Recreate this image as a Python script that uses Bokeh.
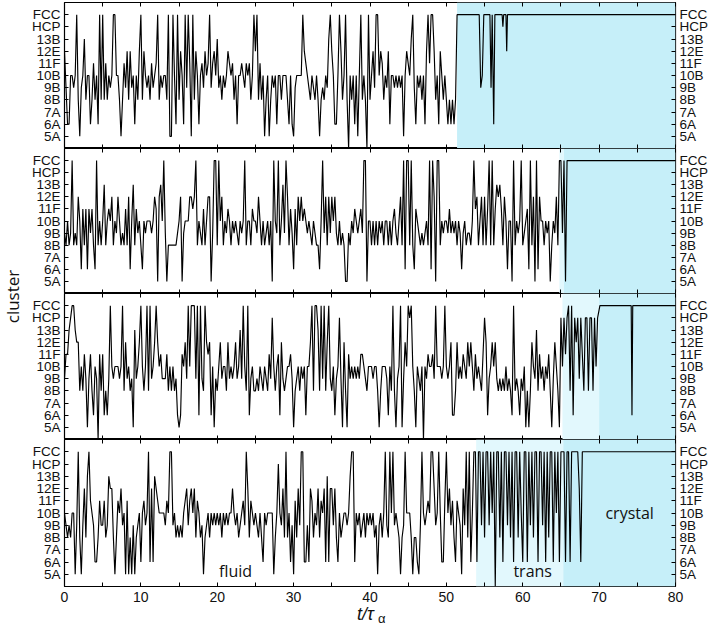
import numpy as np
from bokeh.plotting import figure
from bokeh.models import LinearAxis, FixedTicker, BoxAnnotation, Range1d
from bokeh.layouts import row, column
from bokeh.embed import file_html
from bokeh.resources import INLINE
from bokeh.core.properties import value

# ---------------- data ----------------
categories = ["5A", "6A", "7A", "8B", "9B", "10B", "11F", "12E", "13B", "HCP", "FCC"]
# value -1 = no cluster (line drops to the bottom edge)
dt = 0.2

fluid_1 = [
    7, 4, 1, 1, 5,  5, 4, 5, 10, 3,  0, 4, 5, 8, 3,  5, 5, 1, 3, 6,  3, 5, 1, 10, 3,
    10, 3, 6, 3, 5,  4, 5, 10, 10, 5,  5, 3, 0, 3, 6,  4, 7, 3, 7, 4,  5, 1, 5, 3, 7,
    10, 3, 7, 5, 4,  5, 3, 6, 4, 5,  6, 10, 3, 5, 4,  5, 5, 3, 10, 0,  0, 10, 5, 1, 10,
    3, 7, 5, 1, 10,  4, 10, 6, 0, 10,  3, 7, 5, 1, 5,  6, 4, 7, 5, 6,  10, 4, 6, 7, 5,
    8, 4, 5, 3, 5,  4, 5, 7, 6, 5,  6, 3, 5, 1, 5,  5, 6, 5, 4, 6,  5, 6, 3, 5, 10,
    7, 10, 3, 6, 3,  5, 0, 3, 5, 0,  3, 5, 4, 5, 1,  5, 5, 3, 5, 5,  5, 3, 1, 5, 1,
    0, 4, 5, 5, 5,  5, 10, 7, 6, 5,  4, 3, 5, 4, 3,  5, 3, 0, 3, 4,  3, 5, 4, 8, 10,
    7, 5, 1, 1, 5,  10, 7, 3, 5, 10,  3, -1, 5, 3, 5,  1, 5, 0, 5, 10,  3, 5, 3, -1, 10,
    3, 5, 7, 4, 10,  10, 5, 7, 6, 3,  5, 4, 7, 1, 5,  5, 4, 5, 4, 5,  4, 5, 0, 5, 7,
    6, 5, 8, 10, 4,  1, 5, 4, 5, 3,  5, 1, 7, 10, 6,  10, 10, 7, 3, 5,  1, 7, 5, 3, 5,
    3, 1, 3, 1, 3,  1, 3,
]
cryst_t_1 = [51.4, 54.3, 54.5, 54.7, 54.9, 55.7, 55.85, 56.0, 56.2, 56.35, 57.3, 57.4, 57.5, 57.8, 57.9, 58.0, 80.0]
cryst_v_1 = [10, 10, 4, 5, 10, 10, 4, 10, 1, 10, 10, 9, 10, 10, 7, 10, 10]

fluid_2 = [
    4, 3, 5, 3, 4,  10, 3, 4, 3, 7,  5, 1, 6, 3, 6,  1, 6, 4, 6, 3,  1, 10, 3, 5, 3,
    5, 8, 3, 5, 6,  5, 7, 3, 5, 4,  7, 5, 3, 4, 3,  6, 3, 7, 1, 5,  8, 3, 6, 4, 5,
    3, 1, 5, 4, 5,  5, 5, 4, 5, 7,  6, 0, 7, 8, 5,  10, 4, 0, 3, 3,  3, 3, 3, 3, 4,
    5, 7, 0, 4, 5,  5, 5, 7, 7, 6,  7, 10, 3, 5, 4,  3, 6, 3, 5, 7,  7, 0, 4, 10, 10,
    3, 10, 5, 7, 3,  5, 4, 6, 5, 3,  5, 4, 5, 4, 3,  5, 4, 5, 10, 3,  5, 5, 3, 6, 5,
    5, 4, 7, 5, 3,  5, 3, 4, 5, 3,  5, 0, 10, 5, 4,  10, 3, 5, 8, 4,  10, 7, 3, 6, 4,
    1, 6, 3, 7, 5,  7, 5, 6, 5, 4,  5, 4, 3, 5, 4,  3, 3, 1, 5, 10,  4, 7, 3, 7, 4,
    7, 5, 7, 4, 3,  5, 3, 4, 3, 0,  0, 4, 3, 5, 4,  6, 5, 4, 5, 6,  4, 10, 10, 0, 5,
    5, 3, 5, 3, 5,  3, 5, 4, 5, 3,  5, 5, 3, 5, 3,  5, 6, 4, 3, 5,  7, 3, 10, 1, 10,
    10, 3, 10, 3, 1,  6, 5, 4, 3, 4,  3, 4, 5, 3, 10,  1, 10, 7, 0, 10,  10, 3, 5, 4, 5,
    5, 4, 6, 4, 5,  4, 5, 3, 5, 4,  1, 4, 5, 3, 4,  4, 3, 5, 10, 6,  7, 3, 5, 7, 3,
    7, 3, 6, 10, 3,  10, 3, 6, 8, 7,  8, 6, 3, 7, 5,  1, 5, 5, 0, 10,  3, 5, 4, 5, 10,
    3, 4, 5, 6, 1,  10, 3, 7, 0, 10,  1, 7, 5, 5, 3,  5, 4, 5, 0, 3,  5, 4, 7, 3, 10,
    10, 4, 10, 0,
]
cryst_t_2 = [65.8, 80.0]
cryst_v_2 = [10, 10]

fluid_3 = [
    4, 6, 6, 8, 9,  10, 10, 8, 7, 7,  3, 5, 3, 6, 4,  0, 4, 6, 3, 1,  5, 4, -1, 6, 3,
    6, 1, 3, 1, 4,  10, 5, 4, 5, 5,  5, 4, 5, 10, 3,  7, 4, 5, 3, 4,  0, 8, 4, 5, 7,
    10, 5, 3, 5, 10,  3, 10, 4, 5, 7,  10, 7, 5, 6, 4,  4, 4, 6, 3, 5,  3, 5, 3, 4, 1,
    0, 1, 6, 5, 7,  4, 10, 5, 10, 10,  10, 4, 10, 1, 10,  4, 3, 10, 7, 6,  7, 1, 5, 0, 4,
    3, 5, 7, 4, 5,  5, 3, 7, 4, 5,  4, 5, 7, 4, 5,  8, 4, 10, 5, 3,  10, 1, 4, 5, 3,
    3, 4, 3, 5, 4,  3, 5, 4, 3, 6,  4, 9, 5, 3, 5,  6, 1, 7, 4, 3,  4, 5, 5, 6, 4,
    0, 3, 4, 5, 3,  5, 4, 5, 1, 5,  5, 7, 10, 3, 10,  10, 8, 3, 10, 4,  10, 3, 7, 10, 4,
    3, 5, 1, 4, 5,  9, 4, 0, 7, 3,  0, 6, 4, 5, 4,  5, 4, 5, 4, 6,  6, 5, 4, 3, 5,
    5, 5, 4, 5, 5,  3, 0, 3, 5, 5,  5, 4, 1, 5, 3,  10, 3, 0, 4, 5,  10, 0, 4, 7, 5,
    10, 9, 10, 5, 3,  0, 5, 4, 3, 5,  -1, 5, 4, 6, 5,  5, 6, 4, 10, 5,  5, 5, 4, 5, 10,
    5, 4, 5, 7, 1,  1, 3, 7, 4, 5,  4, 6, 5, 4, 7,  5, 7, 5, 3, 6,  4, 5, 4, 3, 6,
    9, 7, 1, 4, 5,  7, 5, 7, 4, 3,  4, 3, 4, 3, 5,  3, 4, 3, 1, 10,  3, 4, 3, 1, 4,
    3, 5, 0, 3, 0,  3, 7, 5, 4, 8,  3, 6, 4, 5, 3,  5, 4, 6, 3, 0,  4, 7, 5, 3, 0,
    9, 5, 9, 6, 9,  10, 3, 10, 1, 9,  7, 9, 4, 9, 6,  3, 9, 9, 3, 9,  9, 3, 9, 5, 9,
]
cryst_t_3 = [70.1, 74.2, 74.3, 74.4, 80.0]
cryst_v_3 = [10, 10, 1, 10, 10]

fluid_4 = [
    5, 4, 3, 4, 3,  5, 5, 0, 4, 10,  3, 0, 4, 7, 3,  8, 10, 6, 5, 4,  1, 1, 3, 6, 4,
    4, 6, 3, 4, 8,  7, 7, 3, 0, 3,  6, 5, 7, 4, 5,  0, 6, 0, 3, 0,  4, 0, 3, 4, 5,
    1, 5, 6, 4, 5,  10, 1, 7, 1, 8,  7, 6, 5, 5, 5,  5, 4, 6, 5, 10,  10, 4, 5, 3, 4,
    3, 4, 3, 5, 6,  7, 4, 6, 7, 5,  7, 3, 6, 5, 3,  4, 0, 3, 4, 5,  3, 5, 4, 5, 4,
    5, 4, 5, 3, 5,  4, 5, 4, 5, 5,  7, 5, 4, 5, 3,  4, 5, 6, 4, 10,  7, 3, 6, 5, 4,
    5, 4, 3, 5, 3,  1, 5, 4, 5, 5,  5, 5, 0, 3, 5,  9, 5, 4, 7, 3,  10, 3, 5, 1, 4,
    0, 6, 3, 7, 4,  10, 10, 1, 1, 4,  1, 7, 6, 3, 5,  4, 7, 3, 6, 5,  7, 1, 8, 1, 7,
    7, 4, 7, 3, 1,  5, 3, 4, 5, 5,  4, 5, 8, 10, 10,  1, 5, 4, 5, 3,  4, 5, 3, 5, 4,
    5, 4, 5, 3, 4,  0, 4, 5, 3, 5,  10, 4, 3, 10, 5,  10, 4, 5, 4, 3,  0, 3, 4, 10, 5,
    5, 5, 3, 0, 3,  3, 1, 0, 4, 10,  5, 4, 5, 6, 5,  10, 10, 7, 4, 5,  10, 5, 1, 1, 6,
    10, 5, 7, 4, 6,  3, 1, 6, 5, 4,  0, 7, 4, 10, 3,  10, 1, 5, 10, 10,  1, 10, 10, 4, 10,
    3, 10, 10, 4, 10,  5, 10, -1, 10, 10,  3, 10, 1, 10, 10,  4, 10, 3, 10, 1,  10, 10, 3, 10, 5,
    1, 10, 10, 1, 10,  4, 10, 3, 10, 10,  1, 10, 10, 4, 10,  1, 10, 3, 10, 10,  1, 10, 5, 10, 1,
    10, 10, 10, 1, 10,  10, 1, 10, 10, 10,  10, 10, 7, 1, 10,
]
cryst_t_4 = [68.0, 80.0]
cryst_v_4 = [10, 10]

fluids = [fluid_1, fluid_2, fluid_3, fluid_4]
cryst_ts = [cryst_t_1, cryst_t_2, cryst_t_3, cryst_t_4]
cryst_vs = [cryst_v_1, cryst_v_2, cryst_v_3, cryst_v_4]

trans_start = [51.4, 64.8, 65.2, 53.9]
cryst_start = [51.4, 65.4, 70.0, 65.3]

x_major = [0, 10, 20, 30, 40, 50, 60, 70, 80]
x_minor = [5, 15, 25, 35, 45, 55, 65, 75]

region_names = ["fluid", "trans", "crystal"]
region_x = [22.4, 61.3, 74.0]
region_y = [0.3, 0.25, 5.0]

# ---------------- styling ----------------
PALE = "#e2f8fd"
DARK = "#c6eff9"
TICK_FONT = "Liberation Sans"
FRAME_W = 611
LEFT_B = 42
RIGHT_B = 34


def no_grid(p):
    p.xgrid.visible = False
    p.ygrid.visible = False
    p.xgrid.grid_line_color = None
    p.ygrid.grid_line_color = None


def style_x_axis(ax, labels):
    ax.ticker = FixedTicker(ticks=x_major, minor_ticks=x_minor)
    ax.major_tick_in = 4
    ax.major_tick_out = 0
    ax.minor_tick_in = 4
    ax.minor_tick_out = 0
    ax.major_tick_line_color = "black"
    ax.minor_tick_line_color = "black"
    ax.axis_line_color = None
    if labels:
        ax.major_label_text_font = TICK_FONT
        ax.major_label_text_font_size = "14px"
        ax.major_label_text_color = "#111111"
        ax.major_label_standoff = 5
    else:
        ax.major_label_overrides = {t: "" for t in x_major}
        ax.major_label_text_font_size = "1px"
        ax.major_label_standoff = 0


def style_y_axis(ax):
    ax.ticker = FixedTicker(ticks=list(range(len(categories))))
    ax.major_label_overrides = {i: c for i, c in enumerate(categories)}
    ax.major_tick_in = 4
    ax.major_tick_out = 0
    ax.minor_tick_in = 0
    ax.minor_tick_out = 0
    ax.major_tick_line_color = "black"
    ax.axis_line_color = None
    ax.major_label_text_font = TICK_FONT
    ax.major_label_text_font_size = "13.5px"
    ax.major_label_text_color = "#111111"
    ax.major_label_standoff = 4


def make_panel(k, frame_h, top_b, bottom_b, bottom_labels):
    p = figure(frame_width=FRAME_W, frame_height=frame_h,
               x_range=Range1d(0, 80), y_range=Range1d(-1, 11),
               output_backend="svg", toolbar_location=None,
               x_axis_location=None, y_axis_location=None,
               min_border_left=LEFT_B, min_border_right=RIGHT_B,
               min_border_top=top_b, min_border_bottom=bottom_b)
    no_grid(p)
    p.outline_line_color = "black"
    p.outline_line_width = 1.2
    p.background_fill_color = "white"
    p.border_fill_color = "white"

    p.add_layout(BoxAnnotation(left=trans_start[k], right=cryst_start[k], fill_color=PALE,
                               fill_alpha=1, line_color=None, level="underlay"))
    p.add_layout(BoxAnnotation(left=cryst_start[k], right=80, fill_color=DARK,
                               fill_alpha=1, line_color=None, level="underlay"))

    fl = fluids[k]
    t = list(np.arange(len(fl)) * dt) + list(cryst_ts[k])
    v = list(fl) + list(cryst_vs[k])
    p.line(t, v, line_color="black", line_width=1.15)

    for side in ("left", "right"):
        ax = LinearAxis()
        style_y_axis(ax)
        p.add_layout(ax, side)
    ax = LinearAxis()
    style_x_axis(ax, False)
    p.add_layout(ax, "above")
    ax = LinearAxis()
    style_x_axis(ax, bottom_labels)
    p.add_layout(ax, "below")
    return p


p1 = make_panel(0, 146, 2, 0, False)
p2 = make_panel(1, 145, 0, 0, False)
p3 = make_panel(2, 146, 0, 0, False)
p4 = make_panel(3, 147, 0, 18, True)

p4.text(x=region_x, y=region_y, text=region_names, text_align="center",
        text_baseline="middle", text_font=value("Open Sans"), text_font_size="16px",
        text_color="#111111")

# x-axis title panel
px = figure(frame_width=FRAME_W, frame_height=21, x_range=Range1d(0, 80), y_range=Range1d(0, 1),
            output_backend="svg", toolbar_location=None,
            x_axis_location=None, y_axis_location=None,
            min_border_left=LEFT_B, min_border_right=RIGHT_B, min_border_top=0, min_border_bottom=0)
no_grid(px)
px.outline_line_color = None
px.border_fill_color = "white"
px.text(x=[38.3], y=[0.55], text=["t/τ"], text_align="left", text_baseline="middle",
        text_font=value("Liberation Sans"), text_font_style="italic", text_font_size="18px",
        text_color="#111111")
px.text(x=[38.3], y=[0.55], text=["α"], text_align="left", text_baseline="middle",
        x_offset=21, y_offset=5,
        text_font=value("Liberation Sans"), text_font_size="13px", text_color="#111111")

# y-axis title panel
pc = figure(frame_width=22, frame_height=625, x_range=Range1d(0, 22), y_range=Range1d(0, 625),
            output_backend="svg", toolbar_location=None,
            x_axis_location=None, y_axis_location=None, min_border=0)
no_grid(pc)
pc.outline_line_color = None
pc.border_fill_color = "white"
pc.text(x=[11.5], y=[329], text=["cluster"], angle=np.pi / 2, text_align="center",
        text_baseline="middle", text_font=value("Open Sans"), text_font_size="17px",
        text_color="#111111")

layout = row(pc, column(p1, p2, p3, p4, px, spacing=0), spacing=0)

open("out.html", "w").write(file_html(layout, INLINE))
